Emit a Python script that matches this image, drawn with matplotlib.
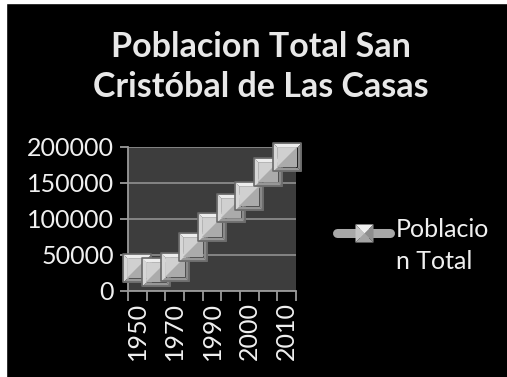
import numpy as np
import matplotlib
matplotlib.use("Agg")
import matplotlib.pyplot as plt
from matplotlib.path import Path
from matplotlib.patches import Rectangle

# poblacion total por censo / conteo
anios = ["1950", "1960", "1970", "1980", "1990", "1995", "2000", "2005", "2010"]
poblacion = [32000, 27000, 32800, 60500, 89300, 115800, 132300, 165000, 185900]
yticks = [0, 50000, 100000, 150000, 200000]

plt.rcParams["font.family"] = ["Lato", "DejaVu Sans"]
txt = "#f0f0f0"

fig = plt.figure(figsize=(5.07, 3.77), dpi=100, facecolor="black")
# thin white strip on the left and top edge
fig.patches.append(Rectangle((0, 0), 6 / 507, 1, transform=fig.transFigure, color="white", zorder=-1))
fig.patches.append(Rectangle((0, 1 - 3 / 377), 1, 3 / 377, transform=fig.transFigure, color="white", zorder=-1))

ax = fig.add_axes([128 / 507, 86 / 377, 168 / 507, 144 / 377])
ax.set_facecolor("#3d3d3d")

x = np.arange(len(anios))


def poly(pts):
    # closed polygon plus two bare moveto corners so every piece is scaled alike
    verts = list(pts) + [pts[0], (-1, -1), (1, 1)]
    codes = [Path.MOVETO] + [Path.LINETO] * (len(pts) - 1) + [Path.CLOSEPOLY, Path.MOVETO, Path.MOVETO]
    return Path(verts, codes)


# bevelled square marker: four edge trapezoids around a two-tone face
k = 0.72
bev_top = poly([(-1, 1), (1, 1), (k, k), (-k, k)])
bev_left = poly([(-1, 1), (-k, k), (-k, -k), (-1, -1)])
bev_right = poly([(1, 1), (1, -1), (k, -k), (k, k)])
bev_bot = poly([(-1, -1), (-k, -k), (k, -k), (1, -1)])
face_ul = poly([(-k, k), (k, k), (-k, -k)])
face_lr = poly([(k, k), (k, -k), (-k, -k)])
frame = poly([(-1, -1), (1, -1), (1, 1), (-1, 1)])
caras = [(bev_top, "#ececec"), (bev_left, "#d6d6d6"), (bev_right, "#8a8a8a"),
         (bev_bot, "#979797"), (face_ul, "#d0d0d0"), (face_lr, "#ababab")]
# pyramid marker for the legend
piramide = [(poly([(-1, 1), (1, 1), (0, 0)]), "#f0f0f0"),
            (poly([(-1, 1), (0, 0), (-1, -1)]), "#c4c4c4"),
            (poly([(1, 1), (1, -1), (0, 0)]), "#8e8e8e"),
            (poly([(-1, -1), (0, 0), (1, -1)]), "#a4a4a4")]

ms = 20.5
ax.plot(x, poblacion, color="#a8a8a8", lw=4.5, zorder=2, solid_capstyle="round")
for i in range(len(x)):
    for path, col in caras:
        ax.plot(x[i], poblacion[i], marker=path, ms=ms, mfc=col, mew=0,
                ls="none", zorder=3 + i, clip_on=False)
    ax.plot(x[i], poblacion[i], marker=frame, ms=ms, mfc="none", mec="#6a6a6a",
            mew=1.2, ls="none", zorder=3 + i, clip_on=False)

ax.set_xlim(-0.5, len(anios) - 0.5)
ax.set_ylim(0, 200000)
ax.set_yticks(yticks)
ax.set_yticklabels([str(v) for v in yticks])
ax.yaxis.grid(True, color="#8a8a8a", lw=1.3)
ax.set_axisbelow(True)

ax.set_xticks(np.arange(-0.5, len(anios)), minor=False)
ax.set_xticklabels([])
ax.set_xticks(x[::2], minor=True)
ax.set_xticklabels(anios[::2], minor=True, rotation=90)
ax.tick_params(axis="x", which="major", length=7, width=1.3, color="#9a9a9a", direction="out")
ax.tick_params(axis="x", which="minor", length=0, pad=8, labelsize=18, labelcolor=txt)
ax.tick_params(axis="y", length=6, width=1.3, color="#9a9a9a", labelsize=18, labelcolor=txt, pad=4)

for s in ["top", "right"]:
    ax.spines[s].set_visible(False)
for s in ["left", "bottom"]:
    ax.spines[s].set_color("#9a9a9a")
    ax.spines[s].set_linewidth(1.3)

fig.text(0.515, 1 - 67 / 377, "Poblacion Total San\nCristóbal de Las Casas", ha="center", va="center",
         fontsize=24.5, fontweight="bold", color="#e8e8e8", linespacing=1.3)

# legend
lx0, lx1, ly = 337 / 507, 390 / 507, 1 - 233 / 377
fig.lines.append(plt.Line2D([lx0, lx1], [ly, ly], transform=fig.transFigure, color="#a8a8a8",
                            lw=6.5, solid_capstyle="round"))
lm = (lx0 + lx1) / 2
for path, col in piramide:
    fig.lines.append(plt.Line2D([lm], [ly], transform=fig.transFigure, marker=path, ms=13,
                                mfc=col, mew=0, ls="none"))
fig.text(396 / 507, 1 - 218 / 377, "Poblacio\nn Total", ha="left", va="top", fontsize=18, color=txt,
         linespacing=1.45, transform=fig.transFigure)

fig.savefig("out.png", dpi=100, facecolor="black")
